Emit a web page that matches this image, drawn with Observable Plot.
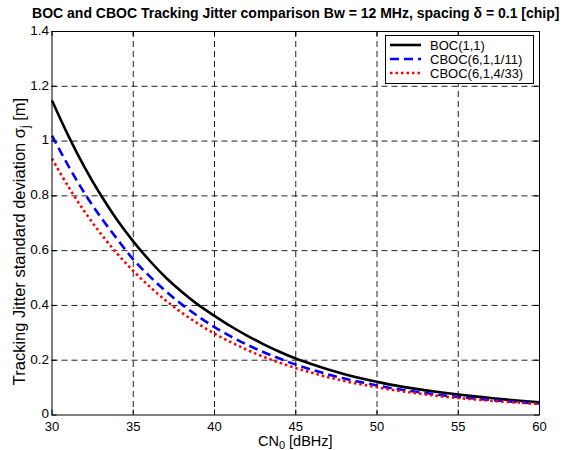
<!DOCTYPE html>
<html><head><meta charset="utf-8">
<script src="https://cdn.jsdelivr.net/npm/d3@7"></script>
<script src="https://cdn.jsdelivr.net/npm/@observablehq/plot@0.6"></script>
<style>
html,body{margin:0;padding:0;background:#fff;}
#wrap{position:relative;width:584px;height:450px;font-family:"Liberation Sans",Arial,sans-serif;}
</style></head>
<body><div id="wrap"></div>
<script>
const cn0 = [30,31,32,33,34,35,36,37,38,39,40,41,42,43,44,45,46,47,48,49,50,51,52,53,54,55,56,57,58,59,60];
const boc11 = [1.148,1.02,0.905,0.803,0.713,0.634,0.564,0.502,0.449,0.402,0.362,0.324,0.290,0.259,0.231,0.206,0.185,0.166,0.149,0.134,0.121,0.109,0.099,0.090,0.082,0.075,0.068,0.062,0.056,0.051,0.046];
const cboc1_11 = [1.02,0.91,0.81,0.722,0.643,0.568,0.507,0.452,0.403,0.360,0.321,0.287,0.257,0.230,0.206,0.184,0.165,0.148,0.133,0.120,0.108,0.097,0.088,0.080,0.072,0.066,0.060,0.055,0.050,0.046,0.042];
const cboc4_33 = [0.936,0.834,0.743,0.662,0.590,0.526,0.469,0.418,0.373,0.333,0.297,0.266,0.238,0.213,0.191,0.171,0.154,0.138,0.124,0.112,0.101,0.091,0.083,0.075,0.068,0.062,0.057,0.052,0.048,0.044,0.040];
const seriesNames = ["BOC(1,1)","CBOC(6,1,1/11)","CBOC(6,1,4/33)"];
const seriesColors = ["#000000","#0000ff","#ff0000"];
const seriesDash = [null,"9,5","2.5,3"];
const xTicks = [30,35,40,45,50,55,60];
const yTicks = [0,0.2,0.4,0.6,0.8,1,1.2,1.4];
const titleText = "BOC and CBOC Tracking Jitter comparison Bw = 12 MHz, spacing \u03b4 = 0.1 [chip]";

const rows = [];
[boc11,cboc1_11,cboc4_33].forEach((arr,i)=>arr.forEach((v,j)=>rows.push({x:cn0[j],y:v,s:seriesNames[i]})));

const W=584,H=450,mT=31,mB=35.5,mL=51.5,mR=45;
const innerH = H-mT-mB, innerW = W-mL-mR;
const font = "Liberation Sans, Arial, sans-serif";

const lineMarks = seriesNames.map((name,i)=>Plot.line(rows.filter(d=>d.s===name),{x:"x",y:"y",stroke:seriesColors[i],strokeWidth:2.6,strokeDasharray:seriesDash[i],strokeLinecap:"butt",curve:"catmull-rom"}));

const chart = Plot.plot({
  width:W,height:H,marginTop:mT,marginBottom:mB,marginLeft:mL,marginRight:mR,
  style:{fontFamily:font,fontSize:"13px",background:"#fff",color:"#000"},
  x:{domain:[30,60]},
  y:{domain:[0,1.4]},
  marks:[
    Plot.ruleX(xTicks.slice(1,-1),{stroke:"#222",strokeWidth:1,strokeDasharray:"6,4"}),
    Plot.ruleY(yTicks.slice(1,-1),{stroke:"#222",strokeWidth:1,strokeDasharray:"6,4"}),
    Plot.tickX(xTicks,{x:d=>d,stroke:"#000",insetTop:innerH-5}),
    Plot.tickX(xTicks,{x:d=>d,stroke:"#000",insetBottom:innerH-5}),
    Plot.tickY(yTicks,{y:d=>d,stroke:"#000",insetRight:innerW-5}),
    Plot.tickY(yTicks,{y:d=>d,stroke:"#000",insetLeft:innerW-5}),
    ...lineMarks,
    Plot.frame({stroke:"#000",strokeWidth:1}),
    Plot.axisX(xTicks,{tickSize:0,tickPadding:7,fontSize:13,label:null}),
    Plot.axisY(yTicks,{tickSize:0,tickPadding:3,fontSize:13.5,label:null,tickFormat:d=>String(d),dy:-1}),
    Plot.text([titleText],{frameAnchor:"top",dy:-23,fontWeight:"bold",fontSize:14,text:d=>d,fill:"#000"})
  ]
});
document.getElementById("wrap").appendChild(chart);

const svg = d3.select(chart);
// x label with subscript
const xl = svg.append("text").attr("x",mL+innerW/2).attr("y",446).attr("text-anchor","middle")
  .attr("font-size",14.5).attr("font-family",font).attr("fill","#000");
xl.append("tspan").text("CN");
xl.append("tspan").attr("font-size",11).attr("dy",3).text("0");
xl.append("tspan").attr("dy",-3).text(" [dBHz]");
// y label with subscript
const yl = svg.append("text").attr("transform","translate(25,241.5) rotate(-90)").attr("text-anchor","middle")
  .attr("font-size",16.5).attr("font-family",font).attr("fill","#000");
yl.append("tspan").text("Tracking Jitter standard deviation \u03c3");
yl.append("tspan").attr("font-size",12).attr("dy",4).text("j");
yl.append("tspan").attr("dy",-4).text(" [m]");
// legend
const lg = svg.append("g").attr("font-family",font).attr("font-size",13).attr("text-anchor","start");
lg.append("rect").attr("x",385.5).attr("y",35.5).attr("width",148).attr("height",48).attr("fill","#fff").attr("stroke","#000");
seriesNames.forEach((n,i)=>{
  const y = 45+i*14;
  lg.append("line").attr("x1",390).attr("x2",421).attr("y1",y).attr("y2",y).attr("stroke",seriesColors[i]).attr("stroke-width",2.6).attr("stroke-dasharray",seriesDash[i]);
  lg.append("text").attr("x",430).attr("y",y+4.5).attr("text-anchor","start").attr("fill","#000").text(n);
});
</script></body></html>
